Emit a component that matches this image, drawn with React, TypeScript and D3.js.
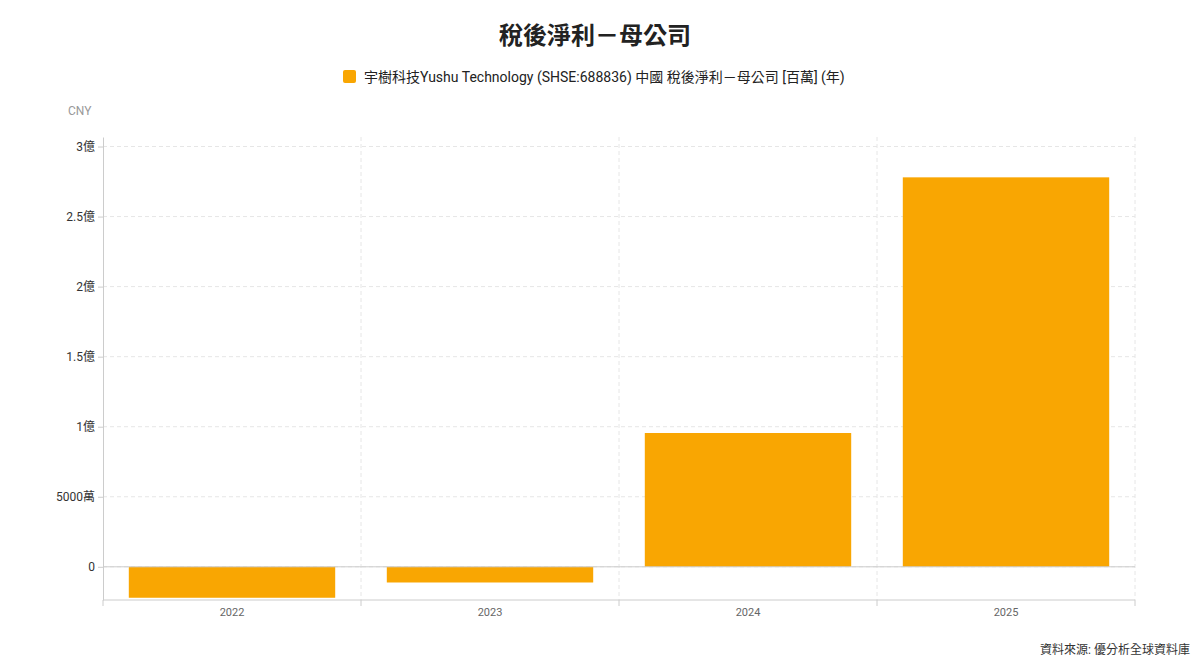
import React, { useEffect, useRef } from "react";
import * as d3 from "d3";

// 年度 (categories)
const years: string[] = ["2022", "2023", "2024", "2025"];
// 稅後淨利－母公司 [百萬]
const netIncome: number[] = [-22.1, -11.2, 95.5, 278.0];
// y 軸刻度 (百萬)
const yTicks: number[] = [0, 50, 100, 150, 200, 250, 300];
const yTickLabels: string[] = ["0", "5000萬", "1億", "1.5億", "2億", "2.5億", "3億"];

const TITLE = "稅後淨利－母公司";
const LEGEND = "宇樹科技Yushu Technology (SHSE:688836) 中國 稅後淨利－母公司 [百萬] (年)";
const SOURCE = "資料來源: 優分析全球資料庫";

const BAR_COLOR = "#F9A602";
const FONT = "Roboto, 'Noto Sans CJK TC', 'Noto Sans', sans-serif";

const App: React.FC = () => {
  const svgRef = useRef<SVGSVGElement | null>(null);

  useEffect(() => {
    const width = 1200;
    const height = 671;
    const margin = { top: 137, right: 65, bottom: 71, left: 103 };
    const innerW = width - margin.left - margin.right;
    const innerH = height - margin.top - margin.bottom;

    const svg = d3.select(svgRef.current);
    svg.selectAll("*").remove();
    svg.attr("width", width).attr("height", height).style("font-family", FONT);

    // 타이틀
    svg
      .append("text")
      .attr("x", 595)
      .attr("y", 44)
      .attr("text-anchor", "middle")
      .style("font-size", "24px")
      .style("font-weight", "bold")
      .style("fill", "#222")
      .text(TITLE);

    // 범례
    const legend = svg.append("g").attr("transform", "translate(343, 70)");
    legend
      .append("rect")
      .attr("width", 13)
      .attr("height", 13)
      .attr("rx", 2)
      .style("fill", BAR_COLOR);
    legend
      .append("text")
      .attr("x", 21)
      .attr("y", 11.5)
      .style("font-size", "14px")
      .style("fill", "#222")
      .text(LEGEND);

    svg
      .append("text")
      .attr("x", 68)
      .attr("y", 115)
      .style("font-size", "12px")
      .style("fill", "#999")
      .text("CNY");

    const x = d3
      .scaleBand<string>()
      .domain(years)
      .range([0, innerW])
      .paddingInner(0.2)
      .paddingOuter(0.1);

    const y = d3.scaleLinear().domain([-23.7, 306.8]).range([innerH, 0]);

    const g = svg
      .append("g")
      .attr("transform", `translate(${margin.left}, ${margin.top})`);

    // 가로 그리드
    g.selectAll(".hgrid")
      .data(yTicks)
      .enter()
      .append("line")
      .attr("class", "hgrid")
      .attr("x1", 0)
      .attr("x2", innerW)
      .attr("y1", (d) => y(d))
      .attr("y2", (d) => y(d))
      .attr("stroke", "#e6e6e6")
      .attr("stroke-dasharray", "4,3");

    // 세로 그리드 (밴드 경계)
    const step = x.step();
    const bounds = d3.range(years.length + 1).map((i) => i * step);
    g.selectAll(".vgrid")
      .data(bounds.slice(1))
      .enter()
      .append("line")
      .attr("class", "vgrid")
      .attr("x1", (d) => d)
      .attr("x2", (d) => d)
      .attr("y1", 0)
      .attr("y2", innerH)
      .attr("stroke", "#e6e6e6")
      .attr("stroke-dasharray", "4,3");

    // 막대
    g.selectAll(".bar")
      .data(netIncome)
      .enter()
      .append("rect")
      .attr("class", "bar")
      .attr("x", (_, i) => x(years[i])!)
      .attr("width", x.bandwidth())
      .attr("y", (d) => y(Math.max(0, d)))
      .attr("height", (d) => Math.abs(y(d) - y(0)))
      .attr("fill", BAR_COLOR);

    // 0 기준선
    g.append("line")
      .attr("x1", 0)
      .attr("x2", innerW)
      .attr("y1", y(0))
      .attr("y2", y(0))
      .attr("stroke", "#ccc");

    // Y축
    const yAxis = g
      .append("g")
      .call(
        d3
          .axisLeft(y)
          .tickValues(yTicks)
          .tickSizeInner(5)
          .tickSizeOuter(0)
          .tickPadding(3)
          .tickFormat((_, i) => yTickLabels[i])
      );
    yAxis.select(".domain").attr("stroke", "#ccc");
    yAxis.selectAll(".tick line").attr("stroke", "#ccc");
    yAxis
      .selectAll("text")
      .style("font-size", "12px")
      .style("fill", "#333")
      .style("font-family", FONT);

    // X축
    const xAxisG = g.append("g").attr("transform", `translate(0, ${innerH})`);
    xAxisG
      .append("line")
      .attr("x1", 0)
      .attr("x2", innerW)
      .attr("stroke", "#ccc");
    xAxisG
      .selectAll(".xtick")
      .data(bounds)
      .enter()
      .append("line")
      .attr("class", "xtick")
      .attr("x1", (d) => d)
      .attr("x2", (d) => d)
      .attr("y1", 0)
      .attr("y2", 6)
      .attr("stroke", "#ccc");
    xAxisG
      .selectAll(".xlabel")
      .data(years)
      .enter()
      .append("text")
      .attr("class", "xlabel")
      .attr("x", (d) => x(d)! + x.bandwidth() / 2)
      .attr("y", 16)
      .attr("text-anchor", "middle")
      .style("font-size", "11px")
      .style("fill", "#666")
      .text((d) => d);

    // 출처
    svg
      .append("text")
      .attr("x", 1190)
      .attr("y", 654)
      .attr("text-anchor", "end")
      .style("font-size", "12px")
      .style("fill", "#333")
      .text(SOURCE);
  }, []);

  return (
    <div style={{ position: "absolute", left: 0, top: 0, width: 1200, height: 671 }}>
      <svg ref={svgRef} style={{ display: "block" }}></svg>
    </div>
  );
};

export default App;
